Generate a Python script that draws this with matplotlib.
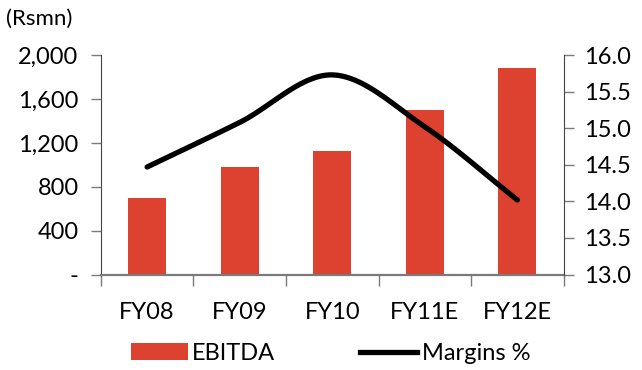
import numpy as np
import matplotlib
matplotlib.use("Agg")
import matplotlib.pyplot as plt
from matplotlib.lines import Line2D
from matplotlib.patches import Patch

categories = ["FY08", "FY09", "FY10", "FY11E", "FY12E"]
ebitda = [700, 980, 1125, 1500, 1880]
margins = [14.47, 15.08, 15.73, 15.02, 14.02]
left_ticks = [0, 400, 800, 1200, 1600, 2000]
left_labels = ["-", "400", "800", "1,200", "1,600", "2,000"]
right_ticks = [13.0, 13.5, 14.0, 14.5, 15.0, 15.5, 16.0]

BAR_RED = "#DD4130"
SPINE = "#7a7a7a"
FS = 17

plt.rcParams["font.family"] = ["Lato", "DejaVu Sans"]


def smooth(xs, ys, n=30):
    """Catmull-Rom spline through the points (Excel-style smoothed line)."""
    xs = np.asarray(xs, float)
    ys = np.asarray(ys, float)
    px = np.concatenate([[2 * xs[0] - xs[1]], xs, [2 * xs[-1] - xs[-2]]])
    py = np.concatenate([[2 * ys[0] - ys[1]], ys, [2 * ys[-1] - ys[-2]]])
    outx, outy = [], []
    t = np.linspace(0, 1, n)
    for i in range(1, len(px) - 2):
        for p, out in ((px, outx), (py, outy)):
            p0, p1, p2, p3 = p[i - 1], p[i], p[i + 1], p[i + 2]
            out.extend(0.5 * ((2 * p1) + (-p0 + p2) * t
                              + (2 * p0 - 5 * p1 + 4 * p2 - p3) * t ** 2
                              + (-p0 + 3 * p1 - 3 * p2 + p3) * t ** 3))
    return np.array(outx), np.array(outy)


fig = plt.figure(figsize=(6.42, 3.70), dpi=100)
ax = fig.add_axes([0.157, 0.258, 0.721, 0.593])
x = np.arange(len(categories))

ax.bar(x, ebitda, width=0.41, color=BAR_RED, zorder=2)
ax.set_xlim(-0.5, len(categories) - 0.5)
ax.set_ylim(0, 2000)
ax.set_yticks(left_ticks)
ax.set_yticklabels(left_labels, fontsize=FS)
ax.set_xticks(x)
ax.set_xticklabels(categories, fontsize=FS)
ax.tick_params(axis="x", length=0, pad=20)
ax.set_xticks(np.arange(-0.5, len(categories)), minor=True)
ax.tick_params(axis="x", which="minor", length=8, color=SPINE, width=1)
ax.tick_params(axis="y", length=7, color=SPINE, width=1, pad=9)

for side in ("top", "right"):
    ax.spines[side].set_visible(False)
ax.spines["left"].set_color("#444444")
ax.spines["bottom"].set_color(SPINE)
ax.spines["bottom"].set_linewidth(1.6)

ax2 = ax.twinx()
sx, sy = smooth(x, margins)
ax2.plot(sx, sy, color="black", linewidth=3.8, solid_capstyle="round", zorder=3)
ax2.set_ylim(13.0, 16.0)
ax2.set_yticks(right_ticks)
ax2.set_yticklabels([f"{v:.1f}" for v in right_ticks], fontsize=FS)
ax2.tick_params(axis="y", length=7, color=SPINE, width=1, pad=8)
for side in ("top", "left", "bottom"):
    ax2.spines[side].set_visible(False)
ax2.spines["right"].set_color("#444444")

fig.text(0.010, 0.948, "(Rsmn)", fontsize=16, va="center", ha="left")

handles = [Patch(facecolor=BAR_RED, edgecolor="none"),
           Line2D([0], [0], color="black", linewidth=3.8)]
fig.legend(handles, ["EBITDA", "Margins %"], loc="center",
           bbox_to_anchor=(0.515, 0.045), ncol=2, frameon=False,
           fontsize=FS, handlelength=2.4, handletextpad=0.2,
           columnspacing=3.6)

fig.savefig("out.png", dpi=100)
